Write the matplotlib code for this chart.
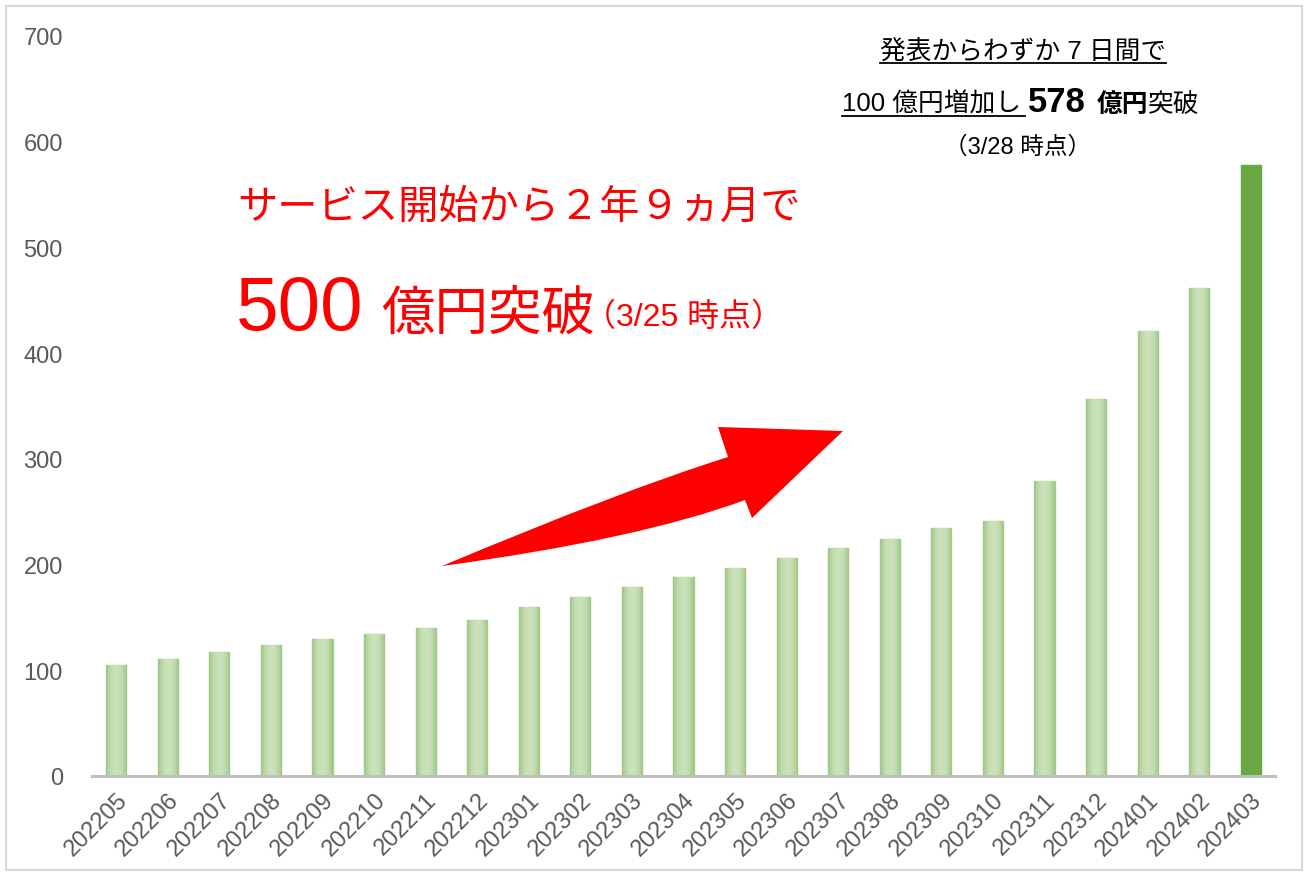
import numpy as np
import matplotlib
matplotlib.use('Agg')
import matplotlib.pyplot as plt
from matplotlib.path import Path
from matplotlib.patches import PathPatch, Rectangle
from matplotlib.lines import Line2D
from matplotlib.colors import LinearSegmentedColormap

# monthly totals (億円)
months = ['202205', '202206', '202207', '202208', '202209', '202210', '202211', '202212',
          '202301', '202302', '202303', '202304', '202305', '202306', '202307', '202308',
          '202309', '202310', '202311', '202312', '202401', '202402', '202403']
values = [105, 111, 117, 124, 130, 134, 140, 148, 160, 169, 179, 188, 197, 206, 216, 224,
          235, 241, 279, 357, 421, 462, 578]
yticks = [0, 100, 200, 300, 400, 500, 600, 700]

W, H = 1308, 878
JP = ['Liberation Sans', 'Noto Sans CJK JP']

def px(x, y):
    # pixel position (from top-left) -> figure fraction
    return x / W, 1 - y / H

fig = plt.figure(figsize=(W / 100, H / 100), dpi=100)
ax = fig.add_axes([92 / W, 1 - 777 / H, (1275 - 92) / W, (777 - 37) / H])

x = np.arange(len(values))
grad_cmap = LinearSegmentedColormap.from_list('g', ['#cbe1ba', '#9dc582'])
bars = ax.bar(x, values, width=0.39, color='#c4dcb2', edgecolor='#a8cc8f', linewidth=1.0, zorder=2)
grad = np.abs(np.linspace(-1, 1, 64)) ** 2.2
grad = grad[np.newaxis, :]
for b in bars[:-1]:
    im = ax.imshow(grad, extent=[b.get_x(), b.get_x() + b.get_width(), 0, b.get_height()],
                   aspect='auto', cmap=grad_cmap, vmin=0, vmax=1, zorder=2.5)
    im.set_clip_path(b)
bars[-1].set_facecolor('#6aa843')
bars[-1].set_edgecolor('#6aa843')

ax.set_xlim(-0.47, len(values) - 0.53)
ax.set_ylim(0, 700)
ax.set_yticks(yticks)
ax.set_xticks(x)
ax.set_xticklabels(months, rotation=45, ha='right', rotation_mode='anchor')
for lab in ax.get_xticklabels() + ax.get_yticklabels():
    lab.set_fontfamily(JP)
    lab.set_fontsize(17)
    lab.set_color('#595959')
ax.tick_params(axis='both', length=0)
ax.tick_params(axis='y', pad=21)
ax.tick_params(axis='x', pad=9)
for s in ['top', 'right', 'left']:
    ax.spines[s].set_visible(False)
ax.spines['bottom'].set_color('#bfbfbf')
ax.spines['bottom'].set_linewidth(2.2)
ax.spines['bottom'].set_zorder(3)

# light frame round the whole picture
fig.patches.append(Rectangle(px(6, 871), 1296 / W, 864 / H, transform=fig.transFigure,
                             fill=False, edgecolor='#d9d9d9', linewidth=1.5))

# red curved arrow (quadratic curves in pixel space)
pts = [(442, 567), (620, 492), (728, 458), (718, 428), (843, 432), (752, 519),
       (745, 501), (640, 540), (442, 567)]
codes = [Path.MOVETO, Path.CURVE3, Path.CURVE3, Path.LINETO, Path.LINETO, Path.LINETO,
         Path.LINETO, Path.CURVE3, Path.CURVE3]
arrow = Path([px(*p) for p in pts], codes)
fig.patches.append(PathPatch(arrow, transform=fig.transFigure, facecolor='#ff0000',
                             edgecolor='none', zorder=5))

# red headline
fig.text(*px(237, 219), 'サービス開始から２年９ヵ月で', color='#ff0000', fontsize=29,
         family=JP, va='baseline', ha='left')
fig.text(*px(236, 330), '500', color='#ff0000', fontsize=55, family=JP, va='baseline', ha='left')
fig.text(*px(381, 330), '億円突破', color='#ff0000', fontsize=38.5, family=JP, va='baseline', ha='left')
fig.text(*px(584, 326), '（3/25 時点）', color='#ff0000', fontsize=23, family=JP, va='baseline', ha='left')

# note at top right
t1 = fig.text(*px(1023, 60), '発表からわずか 7 日間で', fontsize=18.5, family=JP,
              va='baseline', ha='center', color='black')
t2 = fig.text(*px(842, 112), '100 億円増加し', fontsize=18.5, family=JP,
              va='baseline', ha='left', color='black')
fig.text(*px(1028, 112), '578', fontsize=25, family=JP, weight='bold',
         va='baseline', ha='left', color='black')
fig.text(*px(1097, 112), '億円', fontsize=18.5, family=JP, weight='bold',
         va='baseline', ha='left', color='black')
fig.text(*px(1148, 112), '突破', fontsize=18.5, family=JP,
         va='baseline', ha='left', color='black')
fig.text(*px(1018, 154), '（3/28 時点）', fontsize=17, family=JP,
         va='baseline', ha='center', color='black')

fig.canvas.draw()
r = fig.canvas.get_renderer()
for t, y, extra in [(t1, 64, 0), (t2, 117, 4)]:
    bb = t.get_window_extent(r)
    fig.add_artist(Line2D([bb.x0 / W, (bb.x1 + extra) / W], [1 - y / H, 1 - y / H],
                          transform=fig.transFigure, color='black', linewidth=1.3))

fig.savefig('out.png', dpi=100)
